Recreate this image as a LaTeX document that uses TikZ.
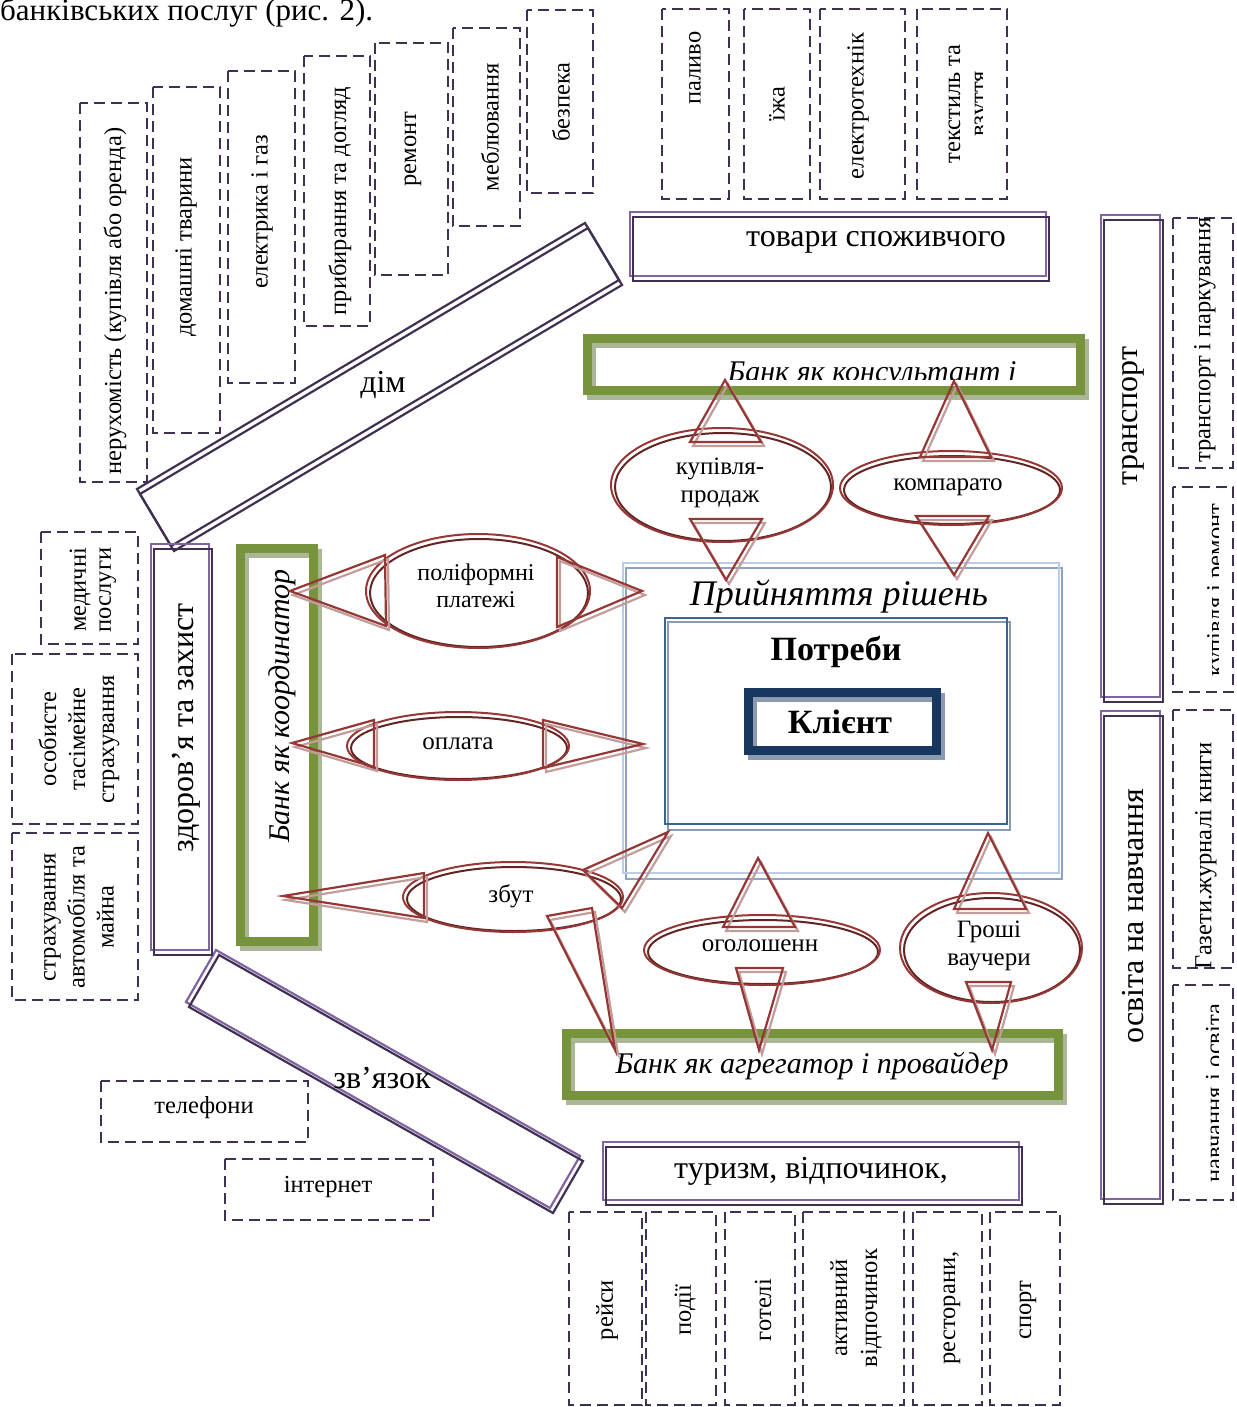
\documentclass[tikz,border=0pt]{standalone}
\usepackage{fontspec}
\setmainfont{Liberation Serif}
\definecolor{dpur}{HTML}{403152}
\definecolor{mpur}{HTML}{8064A2}
\definecolor{gr}{HTML}{77933C}
\definecolor{grsh}{HTML}{A9B797}
\definecolor{rd}{HTML}{953735}
\definecolor{rdsh}{HTML}{C29D9C}
\definecolor{rddk}{HTML}{632523}
\definecolor{lblue}{HTML}{B9CDE5}
\definecolor{gblue}{HTML}{8FA3BD}
\definecolor{mblue}{HTML}{3B6495}
\definecolor{navy}{HTML}{17375E}
\definecolor{shgray}{HTML}{8B9BB2}
\newcommand\fsub{\fontsize{24.5}{26}\selectfont}
\newcommand\fcat{\fontsize{32}{36}\selectfont}
\newcommand\fell{\fontsize{25}{28}\selectfont}
\newcommand\fbank{\fontsize{30}{34}\selectfont\itshape}
\newcommand\mytri[3]{\draw[trish,shift={(3,4)}] #1--#2--#3--cycle; \draw[trim] #1--#2--#3--cycle;}
\newcommand\myell[4]{\draw[ells] (#1+1,#2+2) ellipse [x radius=#3-3, y radius=#4-3]; \draw[ellm] (#1,#2) ellipse [x radius=#3, y radius=#4];}
\newcommand\catbox[4]{\draw[cpur] (#1,#2) rectangle (#3,#4); \draw[cdark] (#1+3,#2+5) rectangle (#3+3,#4+5);}
\newcommand\grbox[4]{\draw[grnsh] (#1+4,#2+5) rectangle (#3+4,#4+5); \draw[grn] (#1,#2) rectangle (#3,#4);}
\tikzset{
  dbox/.style={draw=dpur, line width=2.7pt, dash pattern=on 11pt off 6pt},
  cpur/.style={draw=mpur, line width=2.2pt},
  cdark/.style={draw=dpur, line width=2.2pt},
  grn/.style={draw=gr, line width=9pt},
  grnsh/.style={draw=grsh, line width=9pt},
  trim/.style={draw=rd, line width=2.2pt},
  trish/.style={draw=rdsh, line width=2.2pt},
  ellm/.style={draw=rd, line width=2pt},
  ells/.style={draw=rddk, line width=2pt},
  txt/.style={inner sep=0pt, align=center},
  vtxt/.style={inner sep=0pt, align=center, rotate=90},
}
\begin{document}
\begin{tikzpicture}[x=1pt,y=-1pt]
\useasboundingbox (0,0) rectangle (1236,1407);
% heading fragment
\node[inner sep=0pt, anchor=base west, font=\fontsize{31}{34}\selectfont] (head) at (0,21) {банківських послуг (рис. 2).};
% dashed boxes
\foreach \a/\b/\c/\d in {80/103/147/482, 153/87/220/433, 228/71/295/383, 304/56/370/326, 375/43/448/275, 453/28/520/226, 527/10/593/193,
  662/9/729/199, 744/9/810/199, 820/9/905/199, 917/9/1007/199,
  1173/218/1233/468, 1173/487/1233/692, 1173/710/1233/968, 1173/985/1233/1200,
  41/532/138/644, 12/654/138/824, 12/833/138/1000,
  101/1081/308/1142, 225/1159/433/1220,
  569/1212/642/1405, 646/1212/716/1405, 725/1212/795/1405, 803/1212/904/1405, 913/1212/982/1405, 990/1212/1060/1405}
  {\draw[dbox] (\a,\b) rectangle (\c,\d);}
% dashed box texts
\node[vtxt, font=\fsub] (t1) at (115,301) {нерухомість (купівля або оренда)};
\node[vtxt, font=\fsub] (t2) at (186,247) {домашні тварини};
\node[vtxt, font=\fsub] (t3) at (262,212) {електрика і газ};
\node[vtxt, font=\fsub] (t4) at (340,201) {прибирання та догляд};
\node[vtxt, font=\fsub] (t5) at (413,149) {ремонт};
\node[vtxt, font=\fsub] (t6) at (490,127) {меблювання};
\node[vtxt, font=\fsub] (t7) at (561,102) {безпека};
\node[vtxt, font=\fsub] (t8) at (695,68) {паливо};
\node[vtxt, font=\fsub] (t9) at (777,104) {їжа};
\node[vtxt, font=\fsub] (t10) at (858,106) {електротехнік};
\begin{scope}
\clip (917,9) rectangle (982,199);
\node[vtxt, font=\fsub] (t11) at (970,104) {текстиль та\\взуття};
\end{scope}
\node[vtxt, font=\fsub] (t12) at (1205,340) {транспорт і паркування};
\begin{scope}
\clip (1173,487) rectangle (1218,692);
\node[vtxt, font=\fsub] (t13) at (1218,590) {купівля і ремонт};
\end{scope}
\node[vtxt, font=\fsub] (t14) at (1206,856) {Газети.журналі книги};
\begin{scope}
\clip (1173,985) rectangle (1218,1200);
\node[vtxt, font=\fsub] (t15) at (1214,1093) {навчання і освіта};
\end{scope}
\node[vtxt, font=\fontsize{24.5}{25}\selectfont] (t16) at (93,590) {медичні\\послуги};
\node[vtxt, font=\fontsize{24.5}{29}\selectfont] (t17) at (79,739) {особисте\\тасімейне\\страхування};
\node[vtxt, font=\fontsize{24.5}{29}\selectfont] (t18) at (79,917) {страхування\\автомобіля та\\майна};
\node[txt, font=\fsub] (t19) at (204,1108) {телефони};
\node[txt, font=\fsub] (t20) at (328,1187) {інтернет};
\node[vtxt, font=\fsub] (t21) at (607,1310) {рейси};
\node[vtxt, font=\fsub] (t22) at (685,1310) {події};
\node[vtxt, font=\fsub] (t23) at (763,1310) {готелі};
\node[vtxt, font=\fontsize{24.5}{30}\selectfont] (t24) at (856,1308) {активний\\відпочинок};
\node[vtxt, font=\fsub] (t25) at (952,1308) {ресторани,};
\node[vtxt, font=\fsub] (t26) at (1028,1310) {спорт};
% category boxes
\draw[cdark] (137,489) -- (585,223) -- (619,280) -- (171,546) -- cycle;
\draw[cdark] (140,494) -- (588,228) -- (622,285) -- (174,551) -- cycle;
\draw[cpur] (216,950) -- (580,1156) -- (550,1208) -- (186,1002) -- cycle;
\draw[cdark] (219,955) -- (583,1161) -- (553,1213) -- (189,1007) -- cycle;
\catbox{630}{212}{1046}{276}
\catbox{1101}{215}{1160}{697}
\catbox{1101}{711}{1160}{1199}
\catbox{151}{544}{209}{950}
\catbox{603}{1142}{1019}{1200}
\node[txt, font=\fcat] (dim) at (383,385) {дім};
\node[txt, font=\fcat] (tov) at (876,242) {товари споживчого};
\node[vtxt, font=\fcat] (tr) at (1133,416) {транспорт};
\node[vtxt, font=\fcat] (osv) at (1133,916) {освіта на навчання};
\node[vtxt, font=\fcat] (zd) at (186,728) {здоров’я та захист};
\node[txt, font=\fcat] (tur) at (811,1171) {туризм, відпочинок,};
\node[txt, font=\fcat] (zv) at (382,1078) {зв’язок};
% green bank boxes
\grbox{240.5}{548}{313}{941}
\grbox{587}{338.5}{1080}{390}
\grbox{566.5}{1033.5}{1058}{1095}
\node[vtxt, font=\fbank] (bk) at (282,706) {Банк як координатор};
\begin{scope}
\clip (592,343) rectangle (1077,379);
\node[inner sep=0pt, anchor=base, font=\fbank] (bc) at (872,381) {Банк як консультант і};
\end{scope}
\node[txt, font=\fbank] (ba) at (812,1066) {Банк як агрегатор і провайдер};
% central boxes
\draw[draw=gblue, line width=2.4pt] (626,568) rectangle (1062,879);
\draw[draw=lblue, line width=2.4pt] (623,563) rectangle (1059,873);
\draw[draw=shgray, line width=2.4pt] (668,622) rectangle (1010,830);
\draw[draw=mblue, line width=2.4pt] (665,618) rectangle (1007,824);
\draw[draw=shgray, line width=9pt] (752,697) rectangle (940,755);
\draw[draw=navy, line width=9pt] (748,692) rectangle (936,750);
\node[txt, font=\fontsize{36}{40}\selectfont\itshape] (pr) at (839,597) {Прийняття рішень};
\node[txt, font=\fontsize{34}{38}\selectfont\bfseries] (po) at (836,652) {Потреби};
\node[txt, font=\fontsize{34}{38}\selectfont\bfseries] (kl) at (840,722) {Клієнт};
% ellipses
\myell{722}{485}{111}{57}
\myell{951}{488}{111}{37}
\myell{478}{591}{112}{57}
\myell{458}{746}{111}{34}
\myell{513}{897}{110}{35}
\myell{762}{950}{118}{35}
\myell{991}{948}{91}{55}
\node[txt, font=\fell] (e1) at (720,483) {купівля-\\продаж};
\node[txt, font=\fell] (e2) at (948,487) {компарато};
\node[txt, font=\fontsize{24}{27}\selectfont] (e3) at (476,586) {поліформні\\платежі};
\node[txt, font=\fell] (e4) at (458,744) {оплата};
\node[txt, font=\fell] (e5) at (511,896) {збут};
\node[txt, font=\fell] (e6) at (760,946) {оголошенн};
\node[txt, font=\fell] (e7) at (989,946) {Гроші\\ваучери};
% triangles
\mytri{(725,380)}{(690,442)}{(761,442)}
\mytri{(954,381)}{(920,457)}{(991,457)}
\mytri{(690,519)}{(762,519)}{(726,580)}
\mytri{(916,516)}{(989,516)}{(954,575)}
\mytri{(290,591)}{(385,555)}{(386,626)}
\mytri{(557,557)}{(557,627)}{(642,591)}
\mytri{(292,743)}{(374,720)}{(374,767)}
\mytri{(543,720)}{(543,768)}{(643,744)}
\mytri{(283,896)}{(424,873)}{(424,918)}
\mytri{(583,870)}{(622,908)}{(668,832)}
\mytri{(547,916)}{(592,908)}{(615,1050)}
\mytri{(758,858)}{(723,927)}{(795,927)}
\mytri{(736,968)}{(783,968)}{(759,1050)}
\mytri{(988,833)}{(954,909)}{(1026,909)}
\mytri{(966,982)}{(1011,982)}{(992,1050)}
\end{tikzpicture}
\end{document}
